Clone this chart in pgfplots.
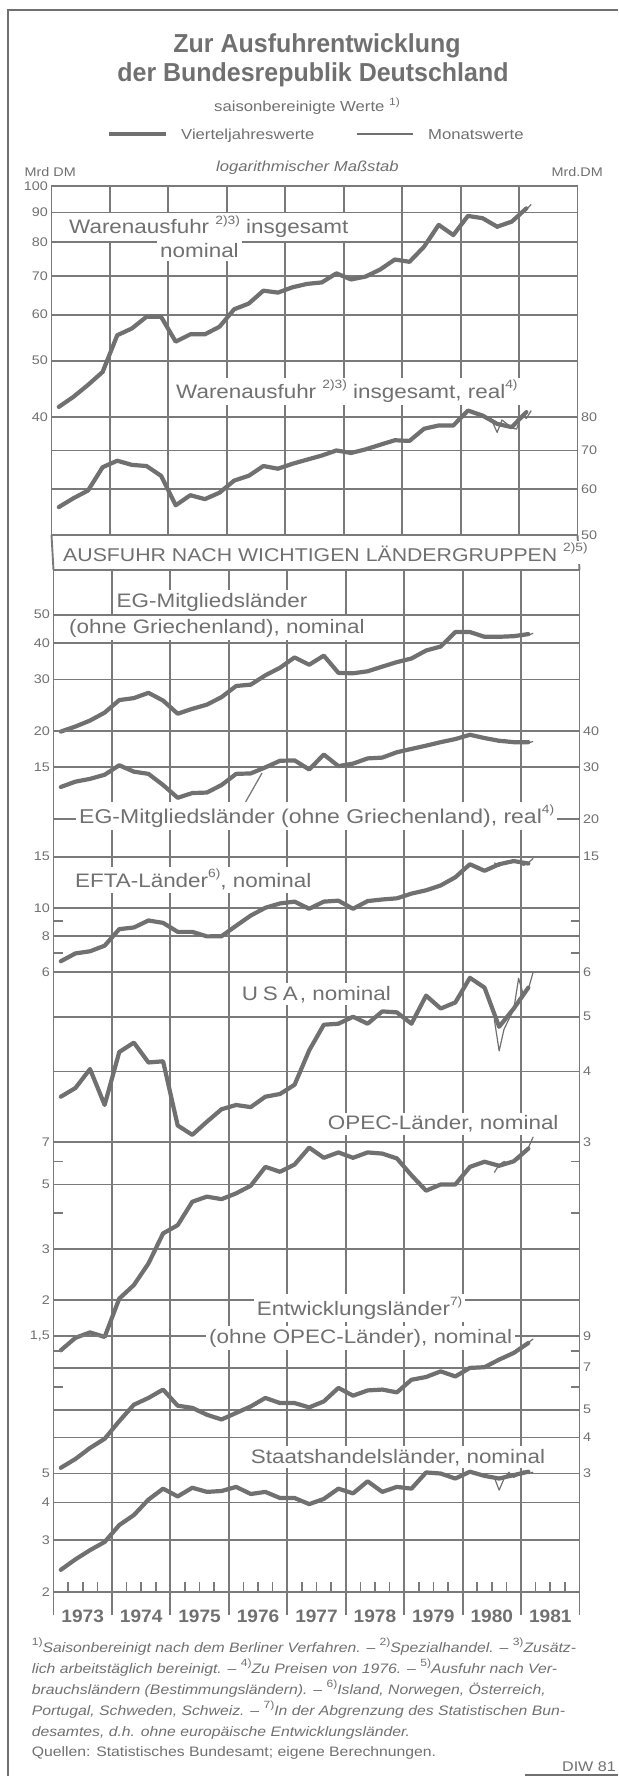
\documentclass[border=0pt]{standalone}
\usepackage{fontspec}
\setmainfont[FakeStretch=1.15]{Liberation Sans}
\newfontfamily\titlefont[FakeStretch=0.96]{Liberation Sans}
\newfontfamily\yearfont[FakeStretch=1.06]{Liberation Sans}
\usepackage{pgfplots}
\usepackage{pgfplotstable}
\pgfplotsset{compat=1.18}

\definecolor{ink}{RGB}{112,112,112}
\definecolor{gridc}{RGB}{122,122,122}
\newcommand\fs[1]{\fontsize{#1}{#1}\selectfont}
\newcommand\fnA[1]{\raisebox{0.5em}{\fs{12}#1}}
\newcommand\fnB[1]{\raisebox{0.45em}{\upshape\fs{10.5}#1}}

% Vierteljahreswerte, Mrd DM; t = years since 1973, at mid-quarter
\pgfplotstableread{
t     nom  real egn  egr  efta  usa  opec  entw staat
0.125 41.6 55.9 19.9 25.7 6.54  3.61 1.34  3.14 2.38
0.375 43.3 57.9 20.7 26.8 6.96  3.74 1.48  3.37 2.58
0.625 45.4 59.7 21.7 27.4 7.08  4.04 1.545 3.68 2.77
0.875 47.8 65.5 23.1 28.3 7.40  3.49 1.49  3.96 2.95
1.125 55.3 67.2 25.5 30.5 8.44  4.33 2.02  4.56 3.36
1.375 56.8 66.1 25.9 29.0 8.55  4.50 2.25  5.20 3.63
1.625 59.5 65.8 27.0 28.5 9.04  4.15 2.67  5.49 4.09
1.875 59.5 63.3 25.4 26.1 8.87  4.17 3.39  5.87 4.45
2.125 53.9 56.3 22.9 23.6 8.26  3.21 3.62  5.16 4.19
2.375 55.5 58.6 23.8 24.5 8.26  3.09 4.36  5.07 4.48
2.625 55.5 57.7 24.6 24.6 7.97  3.26 4.54  4.80 4.34
2.875 57.2 59.2 26.1 26.1 7.98  3.43 4.45  4.62 4.37
3.125 61.3 62.1 28.5 28.5 8.67  3.49 4.66  4.87 4.51
3.375 62.7 63.3 28.8 28.6 9.40  3.46 4.95  5.13 4.27
3.625 66.0 65.8 31.0 30.0 10.0  3.61 5.75  5.49 4.34
3.875 65.5 65.1 32.9 31.6 10.35 3.65 5.53  5.27 4.14
4.125 66.9 66.4 35.7 31.7 10.50 3.79 5.86  5.27 4.14
4.375 67.8 67.5 33.7 29.5 9.92  4.36 6.70  5.09 3.95
4.625 68.2 68.6 36.2 33.2 10.50 4.84 6.18  5.34 4.11
4.875 70.7 70.0 31.6 30.3 10.58 4.86 6.45  5.95 4.45
5.125 69.0 69.3 31.5 30.9 9.92  5.00 6.18  5.59 4.29
5.375 69.8 70.3 32.0 32.2 10.55 4.86 6.45  5.83 4.71
5.625 71.8 71.6 33.2 32.4 10.68 5.11 6.39  5.87 4.34
5.875 74.7 72.9 34.4 33.8 10.78 5.09 6.15  5.74 4.51
6.125 74.0 72.7 35.4 34.7 11.19 4.86 5.38  6.35 4.45
6.375 78.6 76.3 37.7 35.6 11.49 5.45 4.76  6.49 5.04
6.625 85.7 77.3 38.9 36.6 11.94 5.17 5.00  6.79 5.00
6.875 82.3 77.3 43.6 37.5 12.74 5.30 5.00  6.52 4.81
7.125 88.8 82.0 43.6 38.8 14.13 5.86 5.75  6.98 5.07
7.375 88.0 80.4 42.0 37.8 13.41 5.63 5.99  7.02 4.91
7.625 85.1 77.8 42.0 37.0 14.13 4.80 5.80  7.46 4.81
7.875 86.8 76.8 42.2 36.6 14.49 5.17 6.01  7.87 4.94
8.125 91.5 81.5 42.9 36.6 14.21 5.63 6.65  8.52 5.07
}\quart

% Monatswerte, last months; t = years since 1973
\pgfplotstableread{
t     nom  real egn  egr  efta  usa  opec entw staat
7.542 86.0 78.5 42.0 37.2 14.30 4.95 5.50 7.35 4.85
7.625 84.5 75.2 41.5 36.5 13.90 4.35 5.85 7.50 4.40
7.708 85.5 79.0 42.3 37.4 14.40 4.75 6.00 7.50 4.80
7.792 86.0 77.8 42.5 36.9 14.50 4.95 5.90 7.75 5.05
7.875 86.8 76.5 41.8 36.4 14.60 5.15 6.00 7.85 4.85
7.958 88.0 76.2 42.2 36.6 14.40 5.85 6.10 8.00 4.95
8.042 90.0 80.5 43.0 36.8 14.00 5.45 6.40 8.30 5.10
8.125 91.0 79.5 42.5 36.4 14.30 5.60 6.70 8.55 5.00
8.208 93.0 82.0 43.2 36.8 14.80 6.00 7.30 8.80 5.05
}\mon

\pgfplotsset{
  dwbase/.style={scale only axis, width=526pt, xmin=0, xmax=9,
    anchor=north west, clip=false},
  dwframe/.style={dwbase, ymin=0, ymax=1, ytick=\empty,
    xtick={0,1,2,3,4,5,6,7,8,9}, xticklabels={},
    xmajorgrids, grid style={gridc, line width=1.9pt},
    axis line style={gridc, line width=1.9pt}},
  dwser/.style={dwbase, hide x axis, axis line style={draw=none},
    ymajorgrids, grid style={gridc, line width=1.9pt},
    tick align=inside, major tick length=9pt,
    ytick style={gridc, line width=1.9pt},
    yticklabel style={font=\fs{12.5}, text=ink}},
  dwq/.style={ink, line width=4.2pt, line join=round, line cap=round},
  dwm/.style={ink, line width=1.2pt, line join=round},
}
\tikzset{lab/.style={fill=white, text=ink, inner xsep=3pt, inner ysep=2.5pt,
  font=\fs{19.5}}}

\begin{document}
\begin{tikzpicture}
\path[use as bounding box] (0pt,0pt) rectangle (618pt,-1776pt);

% frames with year grid lines
\begin{axis}[dwframe, at={(51.5pt,-186pt)}, height=349.2pt,
  xtick style={draw=none}]
\pgfplotsinvokeforeach{1,2,3,4,5,6,7,8}{
  \fill[gridc] ([xshift=-1.1pt]axis cs:#1,0) rectangle ([xshift=1.1pt]axis cs:#1,1);}
\end{axis}
\begin{axis}[dwframe, at={(53.5pt,-570pt)}, height=1022.4pt,
  xtick pos=bottom, tick align=outside, major tick length=23pt,
  xtick style={draw=gridc, line width=1.9pt},
  x tick label as interval,
  xticklabels={1973,1974,1975,1976,1977,1978,1979,1980,1981},
  minor x tick num=3, minor tick length=10pt,
  minor x tick style={draw=gridc, line width=1.6pt, yshift=10pt},
  xticklabel style={font=\yearfont\bfseries\fs{18}, text=ink, yshift=9pt}]
\pgfplotsinvokeforeach{1,2,3,4,5,6,7,8}{
  \fill[gridc] ([xshift=-1.1pt]axis cs:#1,0) rectangle ([xshift=1.1pt]axis cs:#1,1);}
\end{axis}

% Warenausfuhr nominal / real
\begin{axis}[ymode=log, dwser, at={(51.5pt,-186pt)}, height=349.2pt, ymin=25, ymax=100,
  ytick={40,50,60,70,80,90,100}, yticklabels={40,50,60,70,80,90,100}]
\addplot[dwq] table[x=t,y=nom]{\quart};
\addplot[dwm] table[x=t,y=nom]{\mon};
\end{axis}
\begin{axis}[ymode=log, dwser, at={(51.5pt,-186pt)}, height=349.2pt, ymin=50, ymax=200,
  ytick={50,60,70,80}, yticklabels={50,60,70,80}, yticklabel pos=right]
\addplot[dwq] table[x=t,y=real]{\quart};
\addplot[dwm] table[x=t,y=real]{\mon};
\end{axis}

% EG nominal / real
\begin{axis}[ymode=log, dwser, at={(53.5pt,-572pt)}, height=195.4pt, ymin=15, ymax=70,
  ytick={15,20,30,40,50}, yticklabels={15,20,30,40,50}]
\addplot[dwq] table[x=t,y=egn]{\quart};
\addplot[dwm] table[x=t,y=egn]{\mon};
\end{axis}
\begin{axis}[ymode=log, dwser, at={(53.5pt,-572pt)}, height=246.8pt, ymin=20, ymax=140,
  ytick={20,30,40}, yticklabels={20,30,40}, yticklabel pos=right]
\addplot[dwq] table[x=t,y=egr]{\quart};
\addplot[dwm] table[x=t,y=egr]{\mon};
\end{axis}

% EFTA
\begin{axis}[ymode=log, dwser, at={(53.5pt,-856.7pt)}, height=115.4pt, ymin=6, ymax=15,
  ytick={6,8,10,15}, yticklabels={6,8,10,15},
  extra y ticks={7,9}, extra y tick labels={}, extra y tick style={grid=none}]
\addplot[dwq] table[x=t,y=efta]{\quart};
\addplot[dwm] table[x=t,y=efta]{\mon};
\end{axis}
\begin{axis}[ymode=log, dwser, at={(53.5pt,-856.7pt)}, height=115.4pt, ymin=6, ymax=15,
  ytick={15}, yticklabels={15}, yticklabel pos=right]
\end{axis}

% USA
\begin{axis}[ymode=log, dwser, at={(53.5pt,-972pt)}, height=170.1pt, ymin=3, ymax=6,
  ytick={3,4,5,6}, yticklabels={3,4,5,6}, yticklabel pos=right]
\addplot[dwq] table[x=t,y=usa]{\quart};
\addplot[dwm] table[x=t,y=usa]{\mon};
\end{axis}

% OPEC
\begin{axis}[ymode=log, dwser, at={(53.5pt,-1142.1pt)}, height=194pt, ymin=1.5, ymax=7,
  ytick={1.5,2,3,5,7}, yticklabels={{1,5},2,3,5,7},
  extra y ticks={4,6}, extra y tick labels={}, extra y tick style={grid=none}]
\addplot[dwq] table[x=t,y=opec]{\quart};
\addplot[dwm] table[x=t,y=opec]{\mon};
\end{axis}

% Entwicklungslaender
\begin{axis}[ymode=log, dwser, at={(53.5pt,-1336.1pt)}, height=137.4pt, ymin=3, ymax=9,
  ytick={3,4,5,7,9}, yticklabels={3,4,5,7,9}, yticklabel pos=right,
  extra y ticks={6,8}, extra y tick labels={}, extra y tick style={grid=none}]
\addplot[dwq] table[x=t,y=entw]{\quart};
\addplot[dwm] table[x=t,y=entw]{\mon};
\end{axis}

% Staatshandelslaender
\begin{axis}[ymode=log, dwser, at={(53.5pt,-1473.5pt)}, height=118.9pt, ymin=2, ymax=5,
  ytick={2,3,4,5}, yticklabels={2,3,4,5}]
\addplot[dwq] table[x=t,y=staat]{\quart};
\addplot[dwm] table[x=t,y=staat]{\mon};
\end{axis}

\begin{scope}[x=1pt, y=-1pt]
% outer frame and band sides
\draw[ink, line width=2pt] (8,1776) -- (8,10) -- (618,10);
\draw[ink, line width=2pt] (525,1775) -- (618,1775);
\draw[gridc, line width=1.9pt] (51.5,535.2) -- (53.5,570);
\draw[gridc, line width=1.9pt] (577.5,535.2) -- (579.5,570);

% header
\node[anchor=base, text=ink, font=\titlefont\bfseries\fs{26}] at (317,53) {Zur Ausfuhrentwicklung};
\node[anchor=base, text=ink, font=\titlefont\bfseries\fs{26}] at (313,82) {der Bundesrepublik Deutschland};
\node[anchor=base, text=ink, font=\fs{14.5}] at (307,112) {saisonbereinigte Werte \fnB{1)}};
\draw[ink, line width=4.2pt] (108.6,134) -- (165.8,134);
\node[anchor=base west, text=ink, font=\fs{14.5}, inner sep=0pt] at (181,140) {Vierteljahreswerte};
\draw[ink, line width=1.3pt] (357,134) -- (412.6,134);
\node[anchor=base west, text=ink, font=\fs{14.5}, inner sep=0pt] at (428,140) {Monatswerte};
\node[anchor=base west, text=ink, font=\itshape\fs{14.5}, inner sep=0pt] at (216,172) {logarithmischer Maßstab};
\node[anchor=base west, text=ink, font=\fs{12.5}, inner sep=0pt] at (24.5,177) {Mrd DM};
\node[anchor=base east, text=ink, font=\fs{12.5}, inner sep=0pt] at (603,177) {Mrd.DM};

% series labels
\node[lab, anchor=base west] at (66,234) {Warenausfuhr \fnA{2)3)} insgesamt};
\node[lab, anchor=base west] at (157,258) {nominal};
\node[lab, anchor=base west] at (173,398.5) {Warenausfuhr \fnA{2)3)} insgesamt, real\fnA{4)}};
\node[lab, anchor=base west, font=\fs{18.5}] at (60,561) {AUSFUHR NACH WICHTIGEN LÄNDERGRUPPEN \fnA{2)5)}};
\node[lab, anchor=base west] at (113.5,607) {EG-Mitgliedsländer};
\node[lab, anchor=base west] at (66,633) {(ohne Griechenland), nominal};
\draw[gridc, line width=1.3pt] (245,803) -- (262,773);
\node[lab, anchor=base west, font=\fs{20}] at (76,823.5) {EG-Mitgliedsländer (ohne Griechenland), real\fnA{4)}};
\node[lab, anchor=base west] at (72,887.5) {EFTA-Länder\fnA{6)}, nominal};
\node[lab, anchor=base west] at (238.6,1000) {U\hspace{5pt}S\hspace{5pt}A\hspace{2pt}, nominal};
\node[lab, anchor=base west] at (324.7,1129.5) {OPEC-Länder, nominal};
\node[lab, anchor=base west] at (253.6,1315) {Entwicklungsländer\fnA{7)}};
\node[lab, anchor=base west] at (206,1343) {(ohne OPEC-Länder), nominal};
\node[lab, anchor=base west] at (247.7,1463) {Staatshandelsländer, nominal};

% footnotes
\begin{scope}[every node/.style={anchor=base west, text=ink, inner sep=0pt, font=\itshape\fs{13.7}}]
\node at (31.6,1652) {\fnB{1)}Saisonbereinigt nach dem Berliner Verfahren. – \fnB{2)}Spezialhandel. – \fnB{3)}Zusätz-};
\node at (31.6,1673) {lich arbeitstäglich bereinigt. – \fnB{4)}Zu Preisen von 1976. – \fnB{5)}Ausfuhr nach Ver-};
\node at (31.6,1694) {brauchsländern (Bestimmungsländern). – \fnB{6)}Island, Norwegen, Österreich,};
\node at (31.6,1715) {Portugal, Schweden, Schweiz. – \fnB{7)}In der Abgrenzung des Statistischen Bun-};
\node at (31.6,1736) {desamtes, d.h. ohne europäische Entwicklungsländer.};
\node[font=\fs{13.7}] at (31.6,1756) {Quellen: Statistisches Bundesamt; eigene Berechnungen.};
\end{scope}
\node[anchor=base east, text=ink, inner sep=0pt, font=\fs{14}] at (616,1771) {DIW 81};
\end{scope}
\end{tikzpicture}
\end{document}
